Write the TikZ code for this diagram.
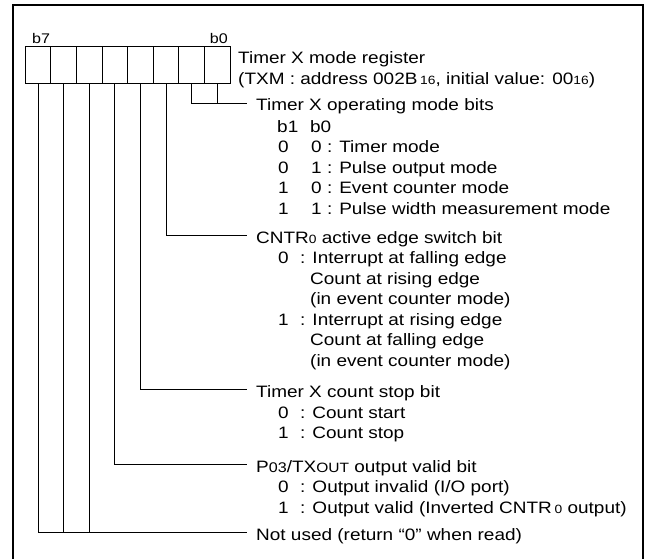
\documentclass[tikz,border=0pt]{standalone}
\usepackage{fontspec}
\setmainfont{Liberation Sans}[FakeStretch=1.15]
\newcommand{\sm}[1]{{\fontsize{12}{12}\selectfont #1}}

\begin{document}
\begin{tikzpicture}[x=1pt,y=-1pt,
	cell/.style={draw,line width=0.8pt,minimum width=25.6pt,minimum height=37pt,inner sep=0pt},
	wire/.style={line width=0.8pt},
	txt/.style={anchor=base west,inner sep=0pt,font=\fontsize{16.5}{20.5}\selectfont},
	head/.style={txt,inner xsep=9pt,text height=16pt,text depth=0pt}]
	\useasboundingbox (0,0) rectangle (645,559);
	%FRAME
	\draw[line width=2pt] (12.5,565)--(12.5,5)--(642.5,5)--(642.5,565);
	
	%REGISTER
	\foreach \b in {0,...,7}
		\node[cell] (c\b) at ({217.2-25.6*\b},64.5) {};
	\node[txt,font=\fontsize{14}{14}\selectfont] (lb7) at (32,44) {b7};
	\node[txt,anchor=base east,font=\fontsize{14}{14}\selectfont] (lb0) at (228,44) {b0};
	\node[txt] (reg) at (238,64) {Timer X mode register};
	\node[txt] (regadr) at (238,85) {(TXM : address 002B\,\sm{16}, initial value: 00\sm{16})};
	
	%CAPTIONS
	\node[head] (opm) at (247,111) {Timer X operating mode bits};
	\node[txt] (opm0) at (277,132) {\makebox[33pt][l]{b1}b0};
	\node[txt] (opm1) at (278,152.5) {\makebox[33pt][l]{0}0 : Timer mode};
	\node[txt] (opm2) at (278,173) {\makebox[33pt][l]{0}1 : Pulse output mode};
	\node[txt] (opm3) at (278,193.5) {\makebox[33pt][l]{1}0 : Event counter mode};
	\node[txt] (opm4) at (278,214) {\makebox[33pt][l]{1}1 : Pulse width measurement mode};
	%
	\node[head] (cntr) at (247,243) {CNTR\sm{0} active edge switch bit};
	\node[txt] (cntr1) at (278,263.5) {\makebox[22pt][l]{0}: Interrupt at falling edge};
	\node[txt] (cntr2) at (310,284) {Count at rising edge};
	\node[txt] (cntr3) at (310,304.5) {(in event counter mode)};
	\node[txt] (cntr4) at (278,325) {\makebox[22pt][l]{1}: Interrupt at rising edge};
	\node[txt] (cntr5) at (310,345.5) {Count at falling edge};
	\node[txt] (cntr6) at (310,366) {(in event counter mode)};
	%
	\node[head] (stop) at (247,397) {Timer X count stop bit};
	\node[txt] (stop1) at (278,418) {\makebox[22pt][l]{0}: Count start};
	\node[txt] (stop2) at (278,438.5) {\makebox[22pt][l]{1}: Count stop};
	%
	\node[head] (pout) at (247,472) {P{\fontsize{14}{14}\selectfont 03}/TX{\fontsize{13.5}{13.5}\selectfont OUT} output valid bit};
	\node[txt] (pout1) at (278,492.5) {\makebox[22pt][l]{0}: Output invalid (I/O port)};
	\node[txt] (pout2) at (278,513) {\makebox[22pt][l]{1}: Output valid (Inverted CNTR\,\sm{0} output)};
	%
	\node[head] (nuse) at (247,540) {Not used (return “0” when read)};
	
	%WIRES
	\draw[wire] (c1.south) |- (opm.west);
	\draw[wire] (c0.south) -- (c0.south |- opm.west);
	\draw[wire] (c2.south) |- (cntr.west);
	\draw[wire] (c3.south) |- (stop.west);
	\draw[wire] (c4.south) |- (pout.west);
	\draw[wire] (c7.south) |- (nuse.west);
	\draw[wire] (c6.south) -- (c6.south |- nuse.west);
	\draw[wire] (c5.south) -- (c5.south |- nuse.west);
\end{tikzpicture}
\end{document}
